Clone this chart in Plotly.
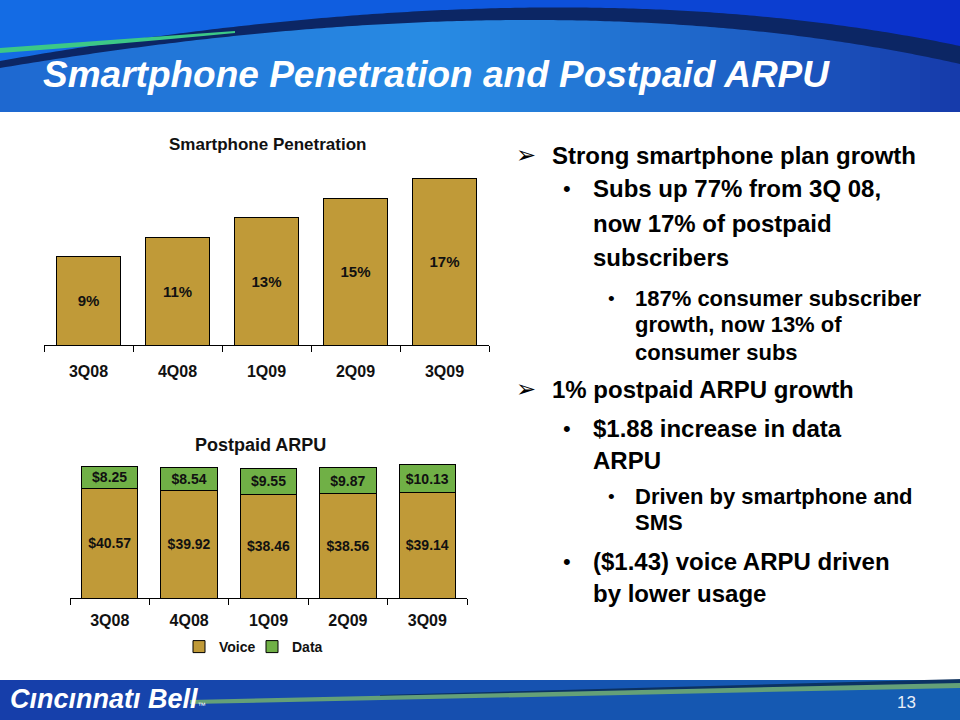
import plotly.graph_objects as go

# ---------------- data ----------------
categories = ["3Q08", "4Q08", "1Q09", "2Q09", "3Q09"]
smartphone_pct = [9, 11, 13, 15, 17]
voice_arpu = [40.57, 39.92, 38.46, 38.56, 39.14]
data_arpu = [8.25, 8.54, 9.55, 9.87, 10.13]

title_text = "Smartphone Penetration and Postpaid ARPU"
chart1_title = "Smartphone Penetration"
chart2_title = "Postpaid ARPU"
bullets = [
    (1, ["Strong smartphone plan growth"]),
    (2, ["Subs up 77% from 3Q 08,", "now 17% of postpaid", "subscribers"]),
    (3, ["187% consumer subscriber", "growth, now 13% of", "consumer subs"]),
    (1, ["1% postpaid ARPU growth"]),
    (2, ["$1.88 increase in data", "ARPU"]),
    (3, ["Driven by smartphone and", "SMS"]),
    (2, ["($1.43) voice ARPU driven", "by lower usage"]),
]
line_y = [155, 189, 223, 257, 298, 325, 352, 389, 428, 461, 496, 522, 561, 593]

GOLD = "#C09A38"
GREEN = "#70B046"
W, H = 960, 720


def px(x):
    return x / W


def py(y):
    return 1 - y / H


def lerp(c1, c2, t):
    return tuple(int(round(a + (b - a) * t)) for a, b in zip(c1, c2))


def grad_color(stops, t):
    for (t0, c0), (t1, c1) in zip(stops, stops[1:]):
        if t0 <= t <= t1:
            return lerp(c0, c1, (t - t0) / (t1 - t0) if t1 > t0 else 0)
    return stops[-1][1]


def bezier(p0, p1, p2, m=200):
    out = []
    for i in range(m + 1):
        t = i / m
        x = (1 - t) ** 2 * p0[0] + 2 * (1 - t) * t * p1[0] + t ** 2 * p2[0]
        y = (1 - t) ** 2 * p0[1] + 2 * (1 - t) * t * p1[1] + t ** 2 * p2[1]
        out.append((x, y))
    return out


def interp(pts, x):
    for (x0, y0), (x1, y1) in zip(pts, pts[1:]):
        if x0 <= x <= x1:
            return y0 + (y1 - y0) * (x - x0) / (x1 - x0) if x1 > x0 else y0
    return pts[-1][1]


def rgb(c):
    return "rgb(%d,%d,%d)" % c


shapes = []

# ---- header banner ----
low_stops = [(0.0, (30, 104, 208)), (0.45, (40, 140, 228)), (0.75, (30, 100, 200)), (1.0, (22, 58, 170))]
sky_stops = [(0.0, (20, 108, 228)), (0.5, (14, 88, 222)), (1.0, (10, 45, 200))]
swoosh_top = bezier((0, 61), (560, -38), (960, 46))
swoosh_bot = bezier((0, 68), (560, -26), (960, 64))
n = 96
for i in range(n):
    xa, xb = i * W / n, (i + 1) * W / n
    t = (i + 0.5) / n
    shapes.append(dict(type="rect", xref="paper", yref="paper",
                       x0=px(xa), x1=px(xb + 1), y0=py(112), y1=py(0),
                       fillcolor=rgb(grad_color(low_stops, t)), line=dict(width=0), layer="below"))
    ta, tb = interp(swoosh_top, xa), interp(swoosh_top, xb)
    shapes.append(dict(type="path", xref="paper", yref="paper",
                       path="M {},{} L {},{} L {},{} L {},{} Z".format(
                           px(xa), py(0), px(xb + 1), py(0), px(xb + 1), py(tb + 1), px(xa), py(ta + 1)),
                       fillcolor=rgb(grad_color(sky_stops, t)), line=dict(width=0), layer="below"))
# dark navy swoosh (one smooth polygon)
band = swoosh_top + swoosh_bot[::-1]
band_path = "M " + " L ".join("{},{}".format(px(x), py(y)) for x, y in band) + " Z"
shapes.append(dict(type="path", xref="paper", yref="paper", path=band_path,
                   fillcolor="rgb(12,38,100)", line=dict(width=0), layer="below"))
# green accent line
shapes.append(dict(type="path", xref="paper", yref="paper",
                   path="M {a},{b} Q {c},{d} {e},{f} L {e},{g} Q {c},{h} {a},{i} Z".format(
                       a=px(0), b=py(48), c=px(110), d=py(40), e=px(235), f=py(31),
                       g=py(33), h=py(45), i=py(53)),
                   fillcolor="rgb(60,200,135)", line=dict(width=0), layer="below"))

# ---- footer band ----
foot_stops = [(0.0, (22, 62, 170)), (0.5, (22, 80, 175)), (1.0, (20, 95, 180))]
for i in range(48):
    t = (i + 0.5) / 48
    shapes.append(dict(type="rect", xref="paper", yref="paper",
                       x0=px(i * W / 48), x1=px((i + 1) * W / 48 + 1), y0=py(720), y1=py(680),
                       fillcolor=rgb(grad_color(foot_stops, t)), line=dict(width=0), layer="below"))
shapes.append(dict(type="path", xref="paper", yref="paper",
                   path="M {a},{b} L {c},{d} L {c},{e} L {a},{f} Z".format(
                       a=px(380), b=py(695), c=px(960), d=py(679), e=py(684), f=py(697)),
                   fillcolor="rgba(10,45,90,0.9)", line=dict(width=0), layer="below"))
shapes.append(dict(type="path", xref="paper", yref="paper",
                   path="M {a},{b} L {c},{d} L {c},{e} L {a},{f} Z".format(
                       a=px(190), b=py(700), c=px(960), d=py(683), e=py(688), f=py(704)),
                   fillcolor="rgb(100,160,120)", line=dict(width=0), layer="below"))

fig = go.Figure()

# ---------------- top chart ----------------
fig.add_trace(go.Bar(
    x=categories, y=smartphone_pct, xaxis="x", yaxis="y",
    marker=dict(color=GOLD, line=dict(color="#000", width=1)),
    text=[f"{v}%" for v in smartphone_pct], textposition="inside",
    insidetextanchor="middle", constraintext="none", textangle=0,
    textfont=dict(family="Arial", size=15, color="#111", weight="bold"),
    showlegend=False, hoverinfo="skip"))

# ---------------- bottom chart ----------------
fig.add_trace(go.Bar(
    name="Voice", x=categories, y=voice_arpu, xaxis="x2", yaxis="y2",
    marker=dict(color=GOLD, line=dict(color="#000", width=1)),
    text=[f"${v:.2f}" for v in voice_arpu], textposition="inside",
    insidetextanchor="middle", constraintext="none", textangle=0,
    textfont=dict(family="Arial", size=14, color="#111", weight="bold")))
fig.add_trace(go.Bar(
    name="Data", x=categories, y=data_arpu, xaxis="x2", yaxis="y2",
    marker=dict(color=GREEN, line=dict(color="#000", width=1)),
    text=[f"${v:.2f}" for v in data_arpu], textposition="inside",
    insidetextanchor="middle", constraintext="none", textangle=0,
    textfont=dict(family="Arial", size=14, color="#111", weight="bold")))

axis_common = dict(type="category", showline=True, linecolor="#000", linewidth=1,
                   ticks="outside", tickson="boundaries", ticklen=6, tickcolor="#000",
                   showgrid=False, zeroline=False, range=[-0.5, 4.5],
                   tickfont=dict(family="Arial", size=16, color="#111", weight="bold"))

annotations = []
annotations.append(dict(x=px(41), y=py(75), xref="paper", yref="paper", xanchor="left", yanchor="middle",
                        text="<b><i>" + title_text + "</i></b>", showarrow=False,
                        font=dict(family="Arial", size=37, color="white")))
annotations.append(dict(x=px(267), y=py(145), xref="paper", yref="paper", xanchor="center", yanchor="middle",
                        text="<b>" + chart1_title + "</b>", showarrow=False,
                        font=dict(family="Arial", size=17, color="#111")))
annotations.append(dict(x=px(260), y=py(445), xref="paper", yref="paper", xanchor="center", yanchor="middle",
                        text="<b>" + chart2_title + "</b>", showarrow=False,
                        font=dict(family="Arial", size=18, color="#111")))

# bullets
level_cfg = {
    1: dict(mark="➢", mark_x=526, text_x=550, size=24, mark_size=24, mark_font="DejaVu Sans"),
    2: dict(mark="•", mark_x=567, text_x=591, size=24, mark_size=22, mark_font="Arial"),
    3: dict(mark="•", mark_x=611, text_x=633, size=22, mark_size=19, mark_font="Arial"),
}
k = 0
for level, lines in bullets:
    cfg = level_cfg[level]
    for j, ln in enumerate(lines):
        yy = line_y[k]
        if j == 0:
            annotations.append(dict(x=px(cfg["mark_x"]), y=py(yy), xref="paper", yref="paper",
                                    xanchor="center", yanchor="middle", text=cfg["mark"], showarrow=False,
                                    font=dict(family=cfg["mark_font"], size=cfg["mark_size"], color="#000")))
        annotations.append(dict(x=px(cfg["text_x"]), y=py(yy), xref="paper", yref="paper",
                                xanchor="left", yanchor="middle", text="<b>" + ln + "</b>", showarrow=False,
                                font=dict(family="Arial", size=cfg["size"], color="#000")))
        k += 1

# footer texts
annotations.append(dict(x=px(8), y=py(699), xref="paper", yref="paper", xanchor="left", yanchor="middle",
                        text="<b><i>Cıncınnatı Bell</i></b><span style='font-size:8px'>™</span>",
                        showarrow=False, font=dict(family="Arial", size=27, color="white")))
annotations.append(dict(x=px(906), y=py(702), xref="paper", yref="paper", xanchor="center", yanchor="middle",
                        text="13", showarrow=False,
                        font=dict(family="Arial", size=17, color="#e8eef8")))

fig.update_layout(
    width=W, height=H, margin=dict(l=0, r=0, t=0, b=0),
    paper_bgcolor="white", plot_bgcolor="rgba(0,0,0,0)",
    barmode="stack", bargap=0.29,
    xaxis=dict(domain=[px(44), px(489)], anchor="y", ticklabelstandoff=12, **axis_common),
    yaxis=dict(domain=[py(345), py(165)], range=[0, 180 / 9.78], visible=False, anchor="x"),
    xaxis2=dict(domain=[px(70), px(467)], anchor="y2", ticklabelstandoff=8, **axis_common),
    yaxis2=dict(domain=[py(598), py(455)], range=[0, 143 / 2.70], visible=False, anchor="x2"),
    showlegend=True,
    legend=dict(orientation="h", x=px(252), y=py(647), xanchor="center", yanchor="middle",
                bgcolor="rgba(0,0,0,0)", font=dict(family="Arial", size=14, color="#111", weight="bold"),
                itemwidth=30, entrywidth=28, traceorder="normal"),
    shapes=shapes, annotations=annotations,
    uniformtext=dict(mode=False),
)

fig.write_html("out.html", config={"displayModeBar": False},
               post_script="document.body.style.margin='0';document.body.style.padding='0';")
